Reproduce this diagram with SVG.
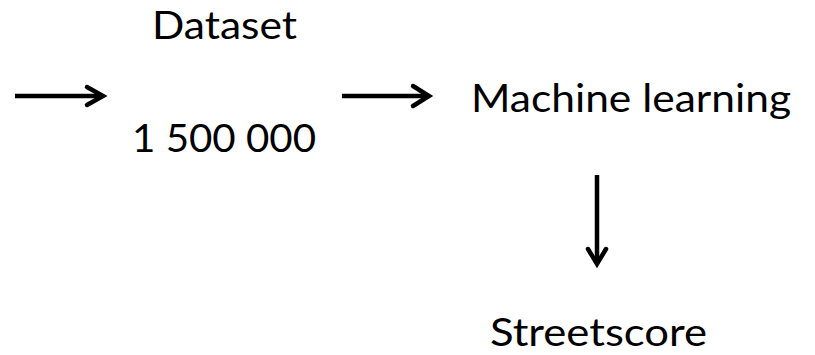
<svg xmlns="http://www.w3.org/2000/svg" width="815" height="355" viewBox="0 0 815 355">
  <style>
    .lbl { font-family: Lato, "Liberation Sans", sans-serif; font-size: 39px; fill: #000; }
    .edge { stroke: #000; stroke-width: 4.5; fill: none; }
    .head { stroke: #000; stroke-width: 4.5; fill: none; stroke-linecap: round; stroke-linejoin: miter; stroke-miterlimit: 10; }
  </style>
  <rect width="815" height="355" fill="#fff"/>
  <g id="connectors">
    <!-- input -> dataset -->
    <line class="edge" x1="15" y1="96" x2="102" y2="96"/>
    <polyline class="head" points="87,87 103,96 87,105"/>
    <!-- dataset -> machine learning -->
    <line class="edge" x1="342" y1="96" x2="428" y2="96"/>
    <polyline class="head" points="413,86 429,96 413,106"/>
    <!-- machine learning -> streetscore -->
    <line class="edge" x1="597" y1="175" x2="597" y2="262"/>
    <polyline class="head" points="588,249 597,264 606,249"/>
  </g>
  <g id="dataset">
    <text class="lbl" x="152" y="39" textLength="145" lengthAdjust="spacingAndGlyphs">Dataset</text>
    <text class="lbl" x="132" y="152" textLength="184" lengthAdjust="spacingAndGlyphs">1 500 000</text>
  </g>
  <g id="machine-learning">
    <text class="lbl" x="471" y="112" textLength="320" lengthAdjust="spacingAndGlyphs">Machine learning</text>
  </g>
  <g id="streetscore">
    <text class="lbl" x="490" y="346" textLength="217" lengthAdjust="spacingAndGlyphs">Streetscore</text>
  </g>
</svg>
